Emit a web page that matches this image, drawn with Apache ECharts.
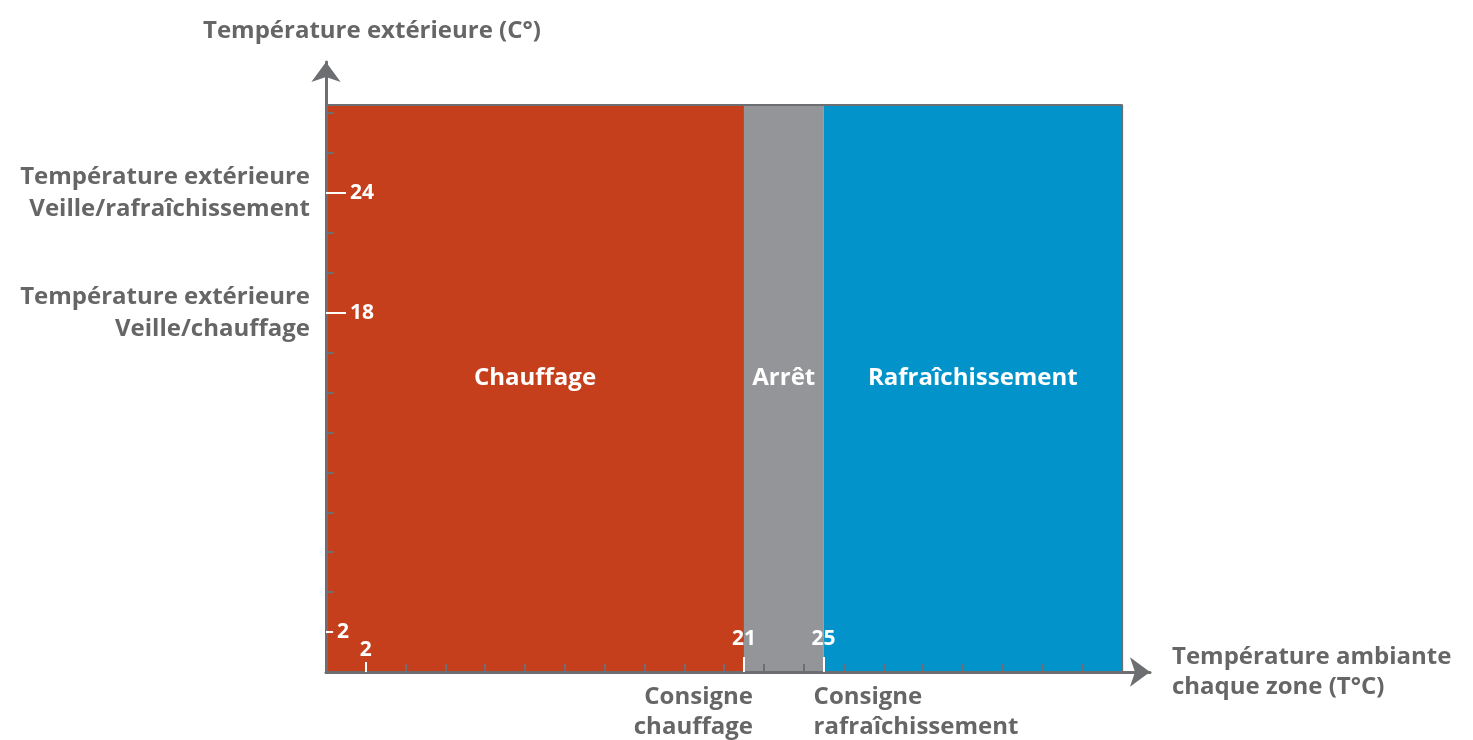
<!DOCTYPE html>
<html>
<head>
<meta charset="utf-8">
<script src="https://cdn.jsdelivr.net/npm/echarts@6/dist/echarts.min.js"></script>
<style>
  html, body { margin: 0; padding: 0; background: #fff; }
  #chart { width: 1473px; height: 740px; }
</style>
</head>
<body>
<div id="chart"></div>
<script>
// zones along the room-temperature axis (schematic units, one unit per tick)
const zoneNames = ['Chauffage', 'Arrêt', 'Rafraîchissement']
const zoneStart = [0, 10.5, 12.5]
const zoneEnd = [10.5, 12.5, 20]
const zoneTop = 14.2
const zoneLabelY = 7.35

// tick marks with their printed values
const xMarks = [1, 10.5, 12.5]
const xMarkLabels = ['2', '21', '25']
const yMarks = [1, 9, 12]
const yMarkLabels = ['2', '18', '24']

// captions
const setpointLabels = ['Consigne\nchauffage', 'Consigne\nrafraîchissement']
const yLongLabels = ['Température extérieure\nVeille/chauffage', 'Température extérieure\nVeille/rafraîchissement']

const colors = ['#C63F1C', '#949598', '#0393CB']
const GRAY = '#6d6e71'
const FONT = 'Open Sans'
const FS = 24
const NUM_FS = 21
const X_MAX = 20.7
const Y_MAX = 15.28

const xTicks = Array.from({length: 20}, (_, i) => i + 1)
const yTicks = Array.from({length: 14}, (_, i) => i + 1)

function markAxis(dim, ticks, tickLen, labels, values, labelOpt) {
  return {
    type: 'value',
    min: 0,
    max: dim === 'x' ? X_MAX : Y_MAX,
    position: dim === 'x' ? 'bottom' : 'left',
    z: 8,
    axisLine: {show: false},
    splitLine: {show: false},
    axisTick: {
      show: ticks.length > 0,
      inside: true,
      length: tickLen,
      customValues: ticks,
      lineStyle: {color: '#fff', width: 2}
    },
    axisLabel: Object.assign({
      customValues: values,
      formatter: v => labels[values.indexOf(v)],
      fontFamily: FONT,
      fontWeight: 'bold'
    }, labelOpt)
  }
}

const myChart = echarts.init(document.getElementById('chart'))
const option = {
  animation: false,
  title: {
    text: 'Température extérieure (C°)',
    left: 198,
    top: 14,
    textStyle: {color: '#666', fontFamily: FONT, fontWeight: 'bold', fontSize: FS}
  },
  grid: {left: 326, right: 323, top: 62, bottom: 68, containLabel: false, outerBoundsMode: 'none'},
  xAxis: [
    {
      type: 'value', min: 0, max: X_MAX, position: 'bottom', z: 6,
      name: 'Température ambiante\nchaque zone (T°C)',
      nameLocation: 'end',
      nameGap: 22,
      nameTextStyle: {color: '#666', fontFamily: FONT, fontWeight: 'bold', fontSize: FS, lineHeight: 30, align: 'left', verticalAlign: 'middle', padding: [40, 0, 0, 0]},
      axisLine: {lineStyle: {color: GRAY, width: 3}, symbol: ['none', 'arrow'], symbolSize: [22, 20]},
      axisTick: {inside: true, length: 8, customValues: xTicks, lineStyle: {color: GRAY, width: 2}},
      axisLabel: {show: false},
      splitLine: {show: false}
    },
    markAxis('x', [], 0, [setpointLabels[0]], [zoneEnd[0]], {
      color: '#666', fontSize: FS, lineHeight: 30, align: 'right', margin: 10, padding: [0, -9, 0, 0]
    }),
    markAxis('x', [], 0, [setpointLabels[1]], [zoneStart[2]], {
      color: '#666', fontSize: FS, lineHeight: 30, align: 'left', margin: 10, padding: [0, 0, 0, -10]
    }),
    markAxis('x', [xMarks[1], xMarks[2]], 15, [xMarkLabels[1], xMarkLabels[2]], [xMarks[1], xMarks[2]], {
      inside: true, color: '#fff', fontSize: NUM_FS, margin: 22
    }),
    markAxis('x', [xMarks[0]], 10, [xMarkLabels[0]], [xMarks[0]], {
      inside: true, color: '#fff', fontSize: NUM_FS, margin: 11
    })
  ],
  yAxis: [
    {
      type: 'value', min: 0, max: Y_MAX, position: 'left', z: 6,
      axisLine: {lineStyle: {color: GRAY, width: 3}, symbol: ['none', 'arrow'], symbolSize: [22, 20]},
      axisTick: {inside: true, length: 8, customValues: yTicks, lineStyle: {color: GRAY, width: 2}},
      axisLabel: {
        customValues: [yMarks[1], yMarks[2]],
        formatter: v => yLongLabels[[yMarks[1], yMarks[2]].indexOf(v)],
        color: '#666', fontFamily: FONT, fontWeight: 'bold', fontSize: FS, lineHeight: 32, align: 'right', margin: 16
      },
      splitLine: {show: false}
    },
    markAxis('y', [yMarks[1], yMarks[2]], 20, [yMarkLabels[1], yMarkLabels[2]], [yMarks[1], yMarks[2]], {
      inside: true, color: '#fff', fontSize: NUM_FS, margin: 24
    }),
    markAxis('y', [yMarks[0]], 7, [yMarkLabels[0]], [yMarks[0]], {
      inside: true, color: '#fff', fontSize: NUM_FS, margin: 11, padding: [0, 0, 6, 0]
    })
  ],
  series: [
    {
      type: 'custom',
      z: 1,
      encode: {x: [0, 1], y: 2},
      data: zoneNames.map((n, i) => [zoneStart[i], zoneEnd[i], zoneTop, n]),
      renderItem: function (params, api) {
        const i = params.dataIndex
        const p0 = api.coord([api.value(0), api.value(2)])
        const p1 = api.coord([api.value(1), 0])
        const ly = api.coord([0, zoneLabelY])[1]
        return {
          type: 'group',
          children: [
            {type: 'rect', shape: {x: p0[0], y: p0[1], width: p1[0] - p0[0], height: p1[1] - p0[1]}, style: {fill: colors[i]}},
            {type: 'text', x: (p0[0] + p1[0]) / 2, y: ly, style: {
              text: zoneNames[i], fill: '#fff', font: 'bold ' + FS + 'px ' + FONT, align: 'center', verticalAlign: 'middle'
            }}
          ]
        }
      }
    },
    {
      // frame on the top and right side of the zones
      type: 'line',
      z: 2,
      symbol: 'none',
      lineStyle: {color: GRAY, width: 2},
      data: [[zoneStart[0], zoneTop], [zoneEnd[2], zoneTop], [zoneEnd[2], 0]]
    }
  ]
}
myChart.setOption(option)
</script>
</body>
</html>
